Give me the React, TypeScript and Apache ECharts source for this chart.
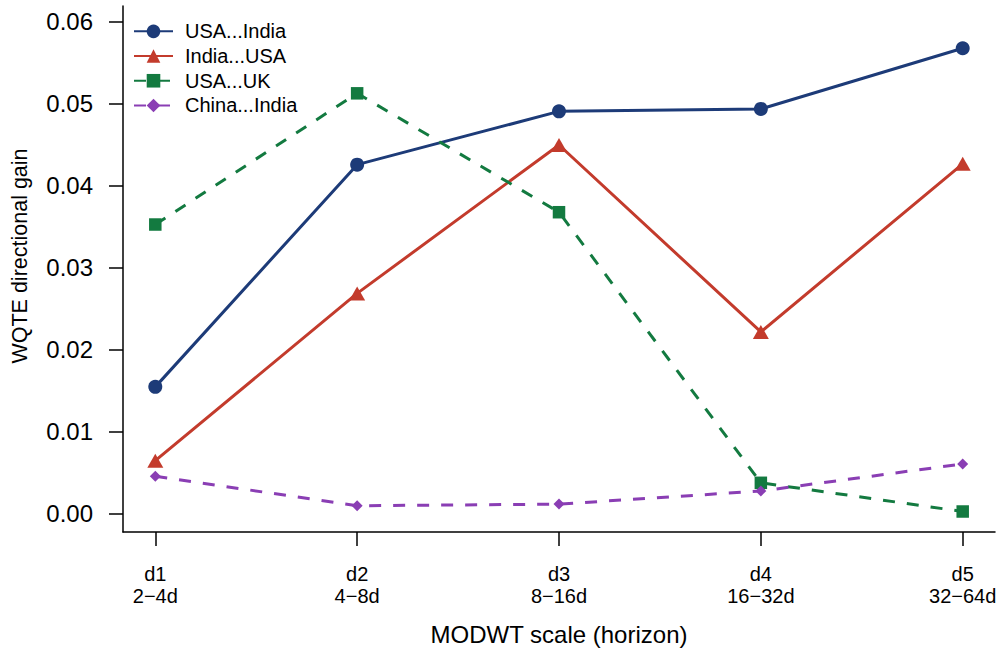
import React, { useEffect, useRef } from "react";
import * as echarts from "echarts";

const scales = ["d1", "d2", "d3", "d4", "d5"];
const horizons = ["2\u22124d", "4\u22128d", "8\u221216d", "16\u221232d", "32\u221264d"];
const yTicks = [0, 0.01, 0.02, 0.03, 0.04, 0.05, 0.06];

const usaIndia = [0.0155, 0.0426, 0.0491, 0.0494, 0.0568];
const indiaUsa = [0.0065, 0.0269, 0.045, 0.0222, 0.0427];
const usaUk = [0.0353, 0.0513, 0.0368, 0.0038, 0.0003];
const chinaIndia = [0.0046, 0.001, 0.0012, 0.0028, 0.0061];

const FONT = "'Liberation Sans', Arial, Helvetica, sans-serif";

export default function App() {
  const ref = useRef<HTMLDivElement>(null);
  useEffect(() => {
    if (!ref.current) return;
    const chart = echarts.init(ref.current, null, { renderer: "svg" });
    const toPts = (arr: number[]) => arr.map((v, i) => [i + 1, v]);
    const mk = (
      name: string,
      data: number[],
      color: string,
      symbol: string,
      symbolSize: any,
      dashed: boolean
    ) => ({
      name,
      type: "line",
      data: toPts(data),
      symbol,
      symbolSize,
      showSymbol: true,
      lineStyle: { color, width: 3, type: dashed ? [12, 12] : "solid" },
      itemStyle: { color },
      emphasis: { disabled: true },
      z: 3,
    });
    chart.setOption({
      animation: false,
      textStyle: { fontFamily: FONT },
      grid: { left: 123, right: 5, top: 6, bottom: 122, containLabel: false },
      legend: {
        orient: "vertical",
        left: 128,
        top: 14,
        itemWidth: 39,
        itemHeight: 17,
        itemGap: 0,
        textStyle: {
          fontFamily: FONT,
          fontSize: 20,
          color: "#000",
          lineHeight: 24.7,
          padding: [0, 0, 0, 7],
        },
        data: ["USA...India", "India...USA", "USA...UK", "China...India"],
      },
      xAxis: {
        type: "value",
        min: 0.84,
        max: 5.16,
        splitLine: { show: false },
        axisLine: { show: true, onZero: false, lineStyle: { color: "#000", width: 1.5 } },
        axisTick: {
          show: true,
          inside: false,
          length: 14,
          customValues: [1, 2, 3, 4, 5],
          lineStyle: { color: "#000", width: 1.5 },
        },
        axisLabel: {
          customValues: [1, 2, 3, 4, 5],
          margin: 31,
          fontFamily: FONT,
          fontSize: 20,
          lineHeight: 22,
          color: "#000",
          formatter: (v: number) => {
            const i = Math.round(v) - 1;
            return scales[i] + "\n" + horizons[i];
          },
        },
      },
      yAxis: {
        type: "value",
        min: -0.0022,
        max: 0.06195,
        splitLine: { show: false },
        axisLine: { show: true, onZero: false, lineStyle: { color: "#000", width: 1.5 } },
        axisTick: {
          show: true,
          inside: false,
          length: 14,
          customValues: yTicks,
          lineStyle: { color: "#000", width: 1.5 },
        },
        axisLabel: {
          customValues: yTicks,
          margin: 30,
          fontFamily: FONT,
          fontSize: 24,
          color: "#000",
          formatter: (v: number) => v.toFixed(2),
        },
      },
      graphic: [
        {
          type: "text",
          x: 559,
          y: 634,
          style: {
            text: "MODWT scale (horizon)",
            fontFamily: FONT,
            fontSize: 24,
            fill: "#000",
            align: "center",
            verticalAlign: "middle",
          },
        },
        {
          type: "text",
          x: 20,
          y: 256,
          rotation: Math.PI / 2,
          style: {
            text: "WQTE directional gain",
            fontFamily: FONT,
            fontSize: 21.5,
            fill: "#000",
            align: "center",
            verticalAlign: "middle",
          },
        },
      ],
      series: [
        mk("USA...India", usaIndia, "#1d3b78", "circle", 14, false),
        mk("India...USA", indiaUsa, "#c33b2c", "triangle", [16, 14], false),
        mk("USA...UK", usaUk, "#137a40", "rect", 12.5, true),
        mk("China...India", chinaIndia, "#8a3eb4", "diamond", 11, true),
      ],
    });
    return () => chart.dispose();
  }, []);
  return (
    <div
      ref={ref}
      style={{ position: "fixed", left: 0, top: 0, width: 1000, height: 654, background: "#fff" }}
    />
  );
}
